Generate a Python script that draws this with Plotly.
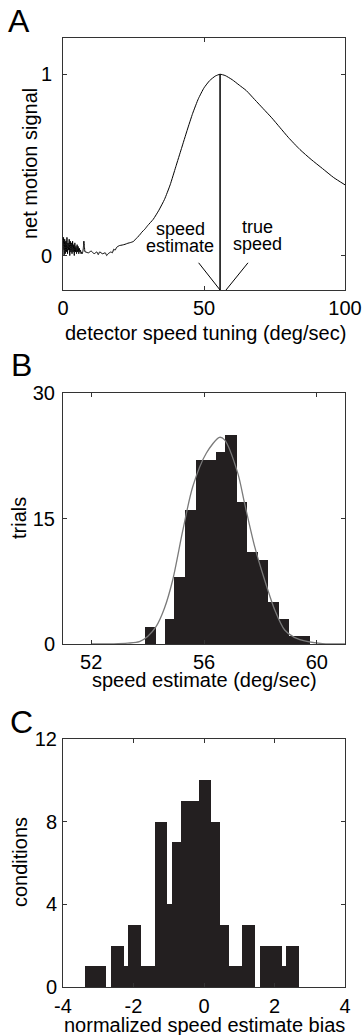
import plotly.graph_objects as go

W, H = 362, 1035
FONT = "Liberation Sans, Arial, Helvetica, sans-serif"

# ---------------- Panel A data ----------------
a_speed = [0.0, 0.2, 0.4, 0.6, 0.8, 1.0, 1.2, 1.4, 1.6, 1.8, 2.0, 2.2, 2.4, 2.6, 2.8,
           3.0, 3.2, 3.4, 3.6, 3.8, 4.0, 4.2, 4.4, 4.6, 4.8, 5.0, 5.2, 5.4, 5.6, 5.8,
           6.0, 6.2, 6.4, 6.6, 6.8, 7.0, 7.2, 7.4, 7.6, 7.8, 8.0,
           9.0, 10.0, 11.0, 12.0, 12.5, 13.0, 14.0, 15.0, 15.5, 16.0, 17.0, 17.5, 18.0,
           18.5, 19.0, 20.0, 21.0, 22.0, 23.0, 24.0, 25.0, 26.0, 27.0, 28.0, 29.0, 30.0,
           32.0, 34.0, 36.0, 38.0, 40.0, 42.0, 44.0, 46.0, 48.0, 50.0, 52.0, 54.0, 55.7,
           57.5, 60.0, 62.5, 65.0, 68.0, 71.0, 74.0, 77.0, 80.0, 84.0, 88.0, 92.0, 96.0, 100.0]
a_signal = [0.03, 0.10, 0.00, 0.09, 0.01, 0.08, 0.02, 0.10, 0.01, 0.07, 0.03, 0.09, 0.00, 0.08, 0.02,
            0.07, 0.01, 0.08, 0.02, 0.06, 0.00, 0.07, 0.02, 0.05, 0.01, 0.06, 0.02, 0.05, 0.01, 0.04,
            0.02, 0.03, 0.01, 0.02, 0.01, 0.02, 0.04, 0.08, 0.05, 0.02, 0.02,
            0.015, 0.025, 0.01, 0.02, 0.005, 0.02, 0.01, 0.015, 0.0, 0.01, 0.02, 0.015, 0.035,
            0.03, 0.045, 0.055, 0.058, 0.062, 0.068, 0.072, 0.078, 0.095, 0.11, 0.13, 0.145, 0.165,
            0.20, 0.25, 0.31, 0.39, 0.49, 0.59, 0.69, 0.785, 0.865, 0.925, 0.965, 0.99, 1.0,
            0.993, 0.97, 0.94, 0.91, 0.86, 0.81, 0.76, 0.705, 0.65, 0.585, 0.53, 0.48, 0.43, 0.39]
a_estimate = 55.7
a_true = 57.8
a_xticks = [0, 50, 100]
a_yticks = [0, 1]

# ---------------- Panel B data ----------------
b_edges = [53.90, 54.30, 54.60, 54.95, 55.31, 55.72, 56.41, 56.76, 57.18, 57.54,
           57.91, 58.27, 58.65, 59.00, 59.75]
b_counts = [2, 0, 3, 8, 16, 22, 23, 25, 17, 11, 10, 5, 3, 1]
b_fit_x = [52.0, 52.8, 53.3, 53.71, 54.0, 54.30, 54.6, 54.89, 55.25, 55.60, 56.08, 56.55,
           56.73, 57.20, 57.44, 57.80, 58.15, 58.51, 58.86, 59.2, 59.69, 60.2, 61.0]
b_fit_y = [0, 0.02, 0.1, 0.28, 0.9, 2.07, 4.3, 7.65, 13.6, 18.8, 22.8, 24.7,
           24.4, 20.4, 16.8, 11.6, 7.65, 4.06, 1.67, 0.8, 0.28, 0.05, 0]
b_xticks = [52, 56, 60]
b_yticks = [0, 15, 30]

# ---------------- Panel C data ----------------
c_edges = [-3.39, -2.79, -2.65, -2.28, -2.15, -1.78, -1.40, -1.04, -0.91, -0.64,
           -0.14, 0.21, 0.45, 0.71, 1.09, 1.45, 1.58, 2.20, 2.34, 2.70]
c_counts = [1, 0, 2, 1, 3, 1, 8, 4, 7, 9, 10, 8, 3, 1, 3, 0, 2, 1, 2]
c_xticks = [-4, -2, 0, 2, 4]
c_xticktext = ["-4", "-2", "0", "2", "4"]
c_yticks = [0, 4, 8, 12]


def centers_widths(edges):
    c = [(edges[i] + edges[i + 1]) / 2 for i in range(len(edges) - 1)]
    w = [edges[i + 1] - edges[i] for i in range(len(edges) - 1)]
    return c, w


def px(x):
    return x / W


def py(y):
    return 1 - y / H


BAR = "#231f20"
AX = "#333333"
FS = 20

fig = go.Figure()

# Panel A
A_YMIN, A_YMAX = -0.19, 1.2
fig.add_trace(go.Scatter(x=a_speed, y=a_signal, mode="lines",
                         line=dict(color="black", width=1, shape="spline", smoothing=0.5),
                         xaxis="x", yaxis="y", hoverinfo="skip"))
fig.add_trace(go.Scatter(x=[a_estimate, a_estimate], y=[A_YMIN, max(a_signal)], mode="lines",
                         line=dict(color="black", width=1.5), xaxis="x", yaxis="y"))
fig.add_trace(go.Scatter(x=[a_estimate - 7.6, a_estimate], y=[-0.04, A_YMIN], mode="lines",
                         line=dict(color="black", width=1), xaxis="x", yaxis="y"))
fig.add_trace(go.Scatter(x=[a_true + 7.8, a_true], y=[-0.04, A_YMIN], mode="lines",
                         line=dict(color="black", width=1), xaxis="x", yaxis="y"))

# Panel B
bc, bw = centers_widths(b_edges)
fig.add_trace(go.Bar(x=bc, y=b_counts, width=bw, marker=dict(color=BAR, line=dict(width=0)),
                     xaxis="x2", yaxis="y2"))
fig.add_trace(go.Scatter(x=b_fit_x, y=b_fit_y, mode="lines",
                         line=dict(color="#7a7a7a", width=1.3, shape="spline", smoothing=0.8),
                         xaxis="x2", yaxis="y2"))

# Panel C
cc, cw = centers_widths(c_edges)
fig.add_trace(go.Bar(x=cc, y=c_counts, width=cw, marker=dict(color=BAR, line=dict(width=0)),
                     xaxis="x3", yaxis="y3"))


def axis(standoff, **kw):
    d = dict(showline=True, linecolor=AX, linewidth=1, mirror="ticks", ticks="inside",
             ticklen=4, tickcolor=AX, showgrid=False, zeroline=False, automargin=False,
             tickfont=dict(size=FS, color="black", family=FONT), ticklabelstandoff=standoff)
    d.update(kw)
    return d


fig.update_layout(
    width=W, height=H, margin=dict(l=0, r=0, t=0, b=0),
    paper_bgcolor="white", plot_bgcolor="white", showlegend=False, bargap=0,
    font=dict(family=FONT, size=FS, color="black"),
    xaxis=axis(0, domain=[px(63), px(345)], anchor="y", range=[0, 100], tickvals=a_xticks),
    yaxis=axis(6, domain=[py(290), py(38)], anchor="x", range=[A_YMIN, A_YMAX], tickvals=a_yticks),
    xaxis2=axis(0, domain=[px(63), px(345)], anchor="y2", range=[51, 61], tickvals=b_xticks),
    yaxis2=axis(3, domain=[py(644), py(393)], anchor="x2", range=[0, 30], tickvals=b_yticks),
    xaxis3=axis(1, domain=[px(63), px(345)], anchor="y3", range=[-4, 4], tickvals=c_xticks,
                ticktext=c_xticktext),
    yaxis3=axis(1, domain=[py(987), py(739)], anchor="x3", range=[0, 12], tickvals=c_yticks),
)


def label(text, x, y, size=FS, angle=0):
    fig.add_annotation(text=text, x=px(x), y=py(y), xref="paper", yref="paper",
                       showarrow=False, xanchor="center", yanchor="middle",
                       textangle=angle, font=dict(size=size, family=FONT, color="black"))


label("A", 19, 21, size=32)
label("B", 21, 365, size=32)
label("C", 21, 722, size=32)
label("net motion signal", 30, 164, angle=-90)
label("detector speed tuning (deg/sec)", 205, 333)
label("trials", 19, 518, angle=-90)
label("speed estimate (deg/sec)", 204, 680)
label("conditions", 20, 862, angle=-90)
label("normalized speed estimate bias", 204, 1025)
label("speed", 180, 229, size=18)
label("estimate", 180, 246, size=18)
label("true", 257, 227, size=18)
label("speed", 257, 244, size=18)

fig.write_html("out.html", config={"displayModeBar": False},
               post_script="document.body.style.margin='0';"
               "document.body.style.overflow='hidden';")
